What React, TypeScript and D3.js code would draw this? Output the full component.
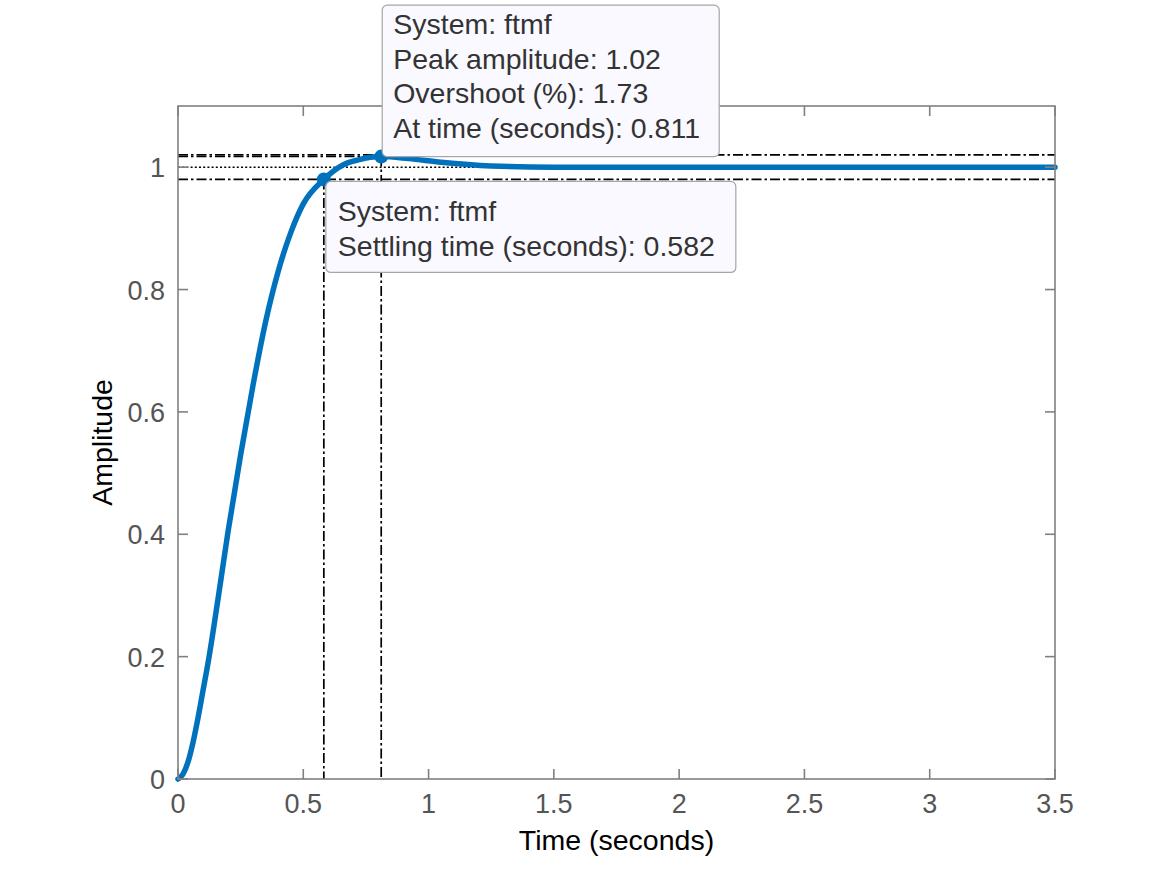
import React from "react";
import * as d3 from "d3";

// ---- data ----
const timeS = [0, 0.02, 0.04, 0.06, 0.08, 0.1, 0.12, 0.16, 0.2, 0.25, 0.3, 0.35, 0.4, 0.45, 0.5, 0.582, 0.66, 0.72, 0.811, 0.92, 1.05, 1.25, 1.5, 2.0, 2.5, 3.0, 3.5];
const amplitude = [0, 0.008, 0.028, 0.06, 0.1, 0.145, 0.19, 0.295, 0.405, 0.53, 0.645, 0.748, 0.83, 0.893, 0.94, 0.98, 1.004, 1.012, 1.0173, 1.014, 1.008, 1.002, 1.0, 1.0, 1.0, 1.0, 1.0];
const xTicks = [0, 0.5, 1, 1.5, 2, 2.5, 3, 3.5];
const xTickLabels = ["0", "0.5", "1", "1.5", "2", "2.5", "3", "3.5"];
const yTicks = [0, 0.2, 0.4, 0.6, 0.8, 1];
const yTickLabels = ["0", "0.2", "0.4", "0.6", "0.8", "1"];
const settleBand = [0.98, 1.02];
const finalValue = 1;
const peakTime = 0.811;
const peakAmp = 1.0173;
const settleTime = 0.582;
const settleAmp = 0.98;
const peakTip = ["System: ftmf", "Peak amplitude: 1.02", "Overshoot (%): 1.73", "At time (seconds): 0.811"];
const settleTip = ["System: ftmf", "Settling time (seconds): 0.582"];

const W = 1167, H = 875;
const L = 178, R = 1055, T = 106, B = 779;
const FONT = "'Liberation Sans', Arial, Helvetica, sans-serif";
const BLUE = "#0072BD";
const DASHDOT = "10,3,2.5,3";

export default function App() {
  const x = d3.scaleLinear().domain([0, 3.5]).range([L, R]);
  const y = d3.scaleLinear().domain([0, 1.1]).range([B, T]);
  const pts = timeS.map((t, i) => [t, amplitude[i]] as [number, number]);
  const line = d3.line<[number, number]>().x(d => x(d[0])).y(d => y(d[1])).curve(d3.curveMonotoneX);
  const tickLen = 10;
  const lh = 34.5;

  const px = x(peakTime), py = y(peakAmp);
  const sx = x(settleTime), sy = y(settleAmp);

  const pBox = { x: px + 1, y: py - 12 - lh * 3 - 36, w: 337, h: 12 + lh * 3 + 36 };
  const sBox = { x: sx + 2, y: sy + 2, w: 410, h: 91 };

  return (
    <svg width={W} height={H} style={{ position: "absolute", left: 0, top: 0, background: "#fff" }} fontFamily={FONT}>
      <rect x={0} y={0} width={W} height={H} fill="#fff" />
      {/* reference lines */}
      {settleBand.map((v, i) => (
        <line key={"b" + i} x1={L} x2={R} y1={y(v)} y2={y(v)} stroke="#000" strokeWidth={1.7} strokeDasharray={DASHDOT} />
      ))}
      <line x1={L} x2={R} y1={y(finalValue)} y2={y(finalValue)} stroke="#000" strokeWidth={1.4} strokeDasharray="2,2.2" />
      <line x1={L} x2={px} y1={py} y2={py} stroke="#000" strokeWidth={1.4} strokeDasharray={DASHDOT} />
      <line x1={px} x2={px} y1={py} y2={B} stroke="#000" strokeWidth={1.7} strokeDasharray={DASHDOT} />
      <line x1={sx} x2={sx} y1={sy} y2={B} stroke="#000" strokeWidth={1.7} strokeDasharray={DASHDOT} />

      {/* curve */}
      <path d={line(pts) || ""} fill="none" stroke={BLUE} strokeWidth={5.5} strokeLinejoin="round" strokeLinecap="round" />
      <circle cx={px} cy={py} r={7} fill={BLUE} />
      <circle cx={sx} cy={sy} r={7} fill={BLUE} />

      {/* axes box */}
      <rect x={L} y={T} width={R - L} height={B - T} fill="none" stroke="#808080" strokeWidth={1.6} />
      {xTicks.map((t, i) => (
        <g key={"x" + i}>
          <line x1={x(t)} x2={x(t)} y1={B} y2={B - tickLen} stroke="#808080" strokeWidth={1.6} />
          <line x1={x(t)} x2={x(t)} y1={T} y2={T + tickLen} stroke="#808080" strokeWidth={1.6} />
          <text x={x(t)} y={B + 34} textAnchor="middle" fontSize={27} fill="#555">{xTickLabels[i]}</text>
        </g>
      ))}
      {yTicks.map((t, i) => (
        <g key={"y" + i}>
          <line x1={L} x2={L + tickLen} y1={y(t)} y2={y(t)} stroke="#808080" strokeWidth={1.6} />
          <line x1={R} x2={R - tickLen} y1={y(t)} y2={y(t)} stroke="#808080" strokeWidth={1.6} />
          <text x={L - 13} y={y(t) + 10} textAnchor="end" fontSize={27} fill="#555">{yTickLabels[i]}</text>
        </g>
      ))}
      <text x={(L + R) / 2} y={850} textAnchor="middle" fontSize={28.5} fill="#000">Time (seconds)</text>
      <text transform={`translate(112,${(T + B) / 2}) rotate(-90)`} textAnchor="middle" fontSize={28.5} fill="#000">Amplitude</text>

      {/* tooltips */}
      <rect x={pBox.x} y={pBox.y} width={pBox.w} height={pBox.h} rx={5} fill="#f9f9ff" stroke="#a6a6a6" strokeWidth={1.2} />
      {peakTip.map((s, i) => (
        <text key={"p" + i} x={pBox.x + 11} y={24 + i * lh + 10} fontSize={28.5} fill="#333">{s}</text>
      ))}
      <rect x={sBox.x} y={sBox.y} width={sBox.w} height={sBox.h} rx={5} fill="#f9f9ff" stroke="#a6a6a6" strokeWidth={1.2} />
      {settleTip.map((s, i) => (
        <text key={"s" + i} x={sBox.x + 12} y={sBox.y + 30 + i * lh + 10} fontSize={28.5} fill="#333">{s}</text>
      ))}
    </svg>
  );
}
